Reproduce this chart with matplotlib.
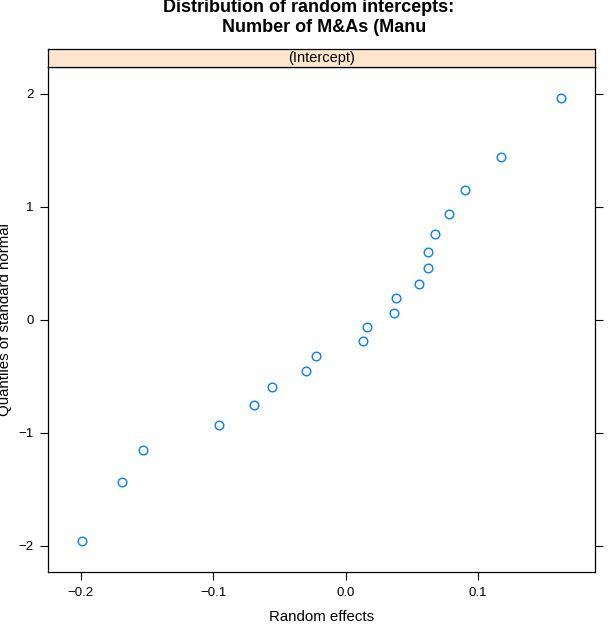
import matplotlib
matplotlib.use("Agg")
import matplotlib.pyplot as plt
from matplotlib.patches import Rectangle

plt.rcParams["font.family"] = ["Liberation Sans", "DejaVu Sans"]

# random intercept estimates (sorted) and matching standard normal quantiles
effects = [-0.1993, -0.1691, -0.1532, -0.0956, -0.0692, -0.0558, -0.0297, -0.0224,
           0.0129, 0.0164, 0.0368, 0.0378, 0.0552, 0.0620, 0.0620, 0.0675,
           0.0783, 0.0900, 0.1176, 0.1629]
quantiles = [-1.960, -1.440, -1.150, -0.935, -0.755, -0.598, -0.454, -0.319,
             -0.189, -0.063, 0.063, 0.189, 0.319, 0.454, 0.598, 0.755,
             0.935, 1.150, 1.440, 1.960]
xticks = [-0.2, -0.1, 0.0, 0.1]
xticklabels = ["\u22120.2", "\u22120.1", "0.0", "0.1"]
yticks = [-2, -1, 0, 1, 2]
yticklabels = ["\u22122", "\u22121", "0", "1", "2"]

W, H = 612, 634
fig = plt.figure(figsize=(W / 100, H / 100), dpi=100)

# panel in pixel coords: x 48..595, y 67..572
px0, px1, py0, py1 = 48, 595, 67, 572.3
ax = fig.add_axes([px0 / W, 1 - py1 / H, (px1 - px0) / W, (py1 - py0) / H])
ax.plot(effects, quantiles, "o", mfc="none", mec="#0080ff", ms=6.2, mew=1.0)
ax.set_xlim(-0.2248, 0.1884)
ax.set_ylim(-2.235, 2.236)
ax.set_xticks(xticks)
ax.set_xticklabels(xticklabels)
ax.set_yticks(yticks)
ax.set_yticklabels(yticklabels)
ax.tick_params(axis="both", direction="out", length=5.8, width=0.8, color="black",
               labelsize=9.5, pad=4.5)
ax.tick_params(axis="y", right=True, left=True, labelright=False)
for s in ax.spines.values():
    s.set_linewidth(0.9)
ax.set_xlabel("Random effects", fontsize=10.8, labelpad=8)

# strip on top of the panel
sy0, sy1 = 48.5, 67
sax = fig.add_axes([px0 / W, 1 - sy1 / H, (px1 - px0) / W, (sy1 - sy0) / H])
sax.add_patch(Rectangle((0, 0), 1, 1, transform=sax.transAxes, facecolor="#ffe5cc",
                        edgecolor="none"))
sax.set_xticks([]); sax.set_yticks([])
for s in sax.spines.values():
    s.set_linewidth(0.9)
sax.text(0.5, 0.48, "(Intercept)", ha="center", va="center", fontsize=10.5,
         transform=sax.transAxes)

# title, two lines
fig.text(309 / W, 1 - 8 / H, "Distribution of random intercepts:", ha="center", va="center",
         fontsize=13, weight="bold")
fig.text(324 / W, 1 - 27 / H, "Number of M&As (Manu", ha="center", va="center",
         fontsize=13, weight="bold")

fig.text(5 / W, 1 - 320 / H, "Quantiles of standard normal", rotation=90, ha="center",
         va="center", fontsize=10.8)

fig.savefig("out.png", dpi=100)
